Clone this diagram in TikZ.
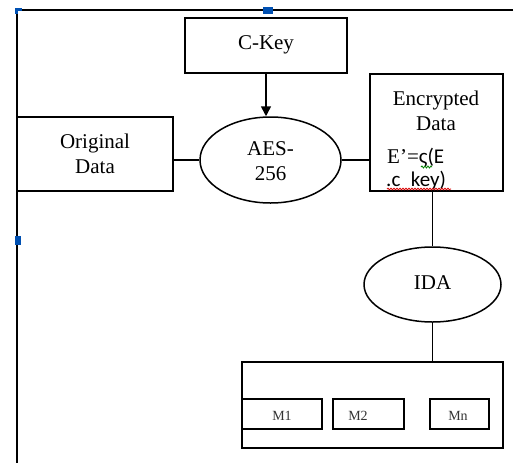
\documentclass[tikz,border=0pt]{standalone}
\usepackage{fontspec}
\setmainfont{Liberation Serif}
\newfontfamily\calib{Carlito}
\usetikzlibrary{shapes.geometric,arrows.meta,decorations.pathmorphing}
\begin{document}
\begin{tikzpicture}[x=1pt,y=-1pt,
  box/.style={draw,line width=1.5pt,rectangle,inner sep=0pt},
  oval/.style={draw,line width=1.5pt,ellipse,inner sep=0pt},
  lbl/.style={font=\fontsize{21}{25}\selectfont,align=center,inner sep=0pt},
  mlbl/.style={font=\fontsize{14}{16}\selectfont,text=black!80,inner sep=0pt},
  conn/.style={line width=1.5pt},
  handle/.style={fill=blue!55!cyan!70!black,draw=none}]
\useasboundingbox[fill=white] (0,0) rectangle (518,463);
% frame lines
\coordinate (tl) at (17,10);
\coordinate (tr) at (513,10);
\coordinate (bl) at (17,463);
\draw[conn,line width=1.3pt] (tr) -- (tl) -- (bl);
% nodes
\node[box,minimum width=162pt,minimum height=55pt] (ckey) at (266,45.5) {};
\node[lbl] (ckeyt) at (266,45) {C-Key};
\node[box,minimum width=156pt,minimum height=74pt] (orig) at (95,154) {};
\node[lbl] (origt) at (95,154) {Original\\Data};
\node[oval,minimum width=141pt,minimum height=86pt] (aes) at (270.5,160) {};
\node[lbl] (aest) at (270.5,161) {AES-\\256};
\node[box,minimum width=133pt,minimum height=117pt] (enc) at (436.5,132.5) {};
\node[lbl] (enct) at (436,111) {Encrypted\\Data};
\node[font=\fontsize{21}{25}\selectfont,anchor=base west,inner sep=0pt] (encf) at (387,163) {E'=\calib ς(E};
\node[font=\fontsize{21}{25}\selectfont\calib,anchor=base west,inner sep=0pt] (enck) at (386,186) {.c\,\,\,key)};
\node[oval,minimum width=137pt,minimum height=75pt] (ida) at (432.5,284.5) {};
\node[lbl] (idat) at (432.5,283) {IDA};
\node[box,minimum width=261pt,minimum height=86pt] (big) at (372.5,405) {};
\node[box,line width=1.3pt,minimum width=80pt,minimum height=30pt] (m1) at (282,414) {};
\node[box,line width=1.3pt,minimum width=71pt,minimum height=30pt] (m2) at (368.5,414) {};
\node[box,line width=1.3pt,minimum width=59pt,minimum height=30pt] (mn) at (459.5,414) {};
\node[mlbl] (m1t) at (282,416) {M1};
\node[mlbl] (m2t) at (358,416) {M2};
\node[mlbl] (mnt) at (458,416) {Mn};
% connectors
\draw[conn,-{Triangle[length=10pt,width=10pt]}] (ckey.south) -- (ckey.south |- aes.north);
\draw[conn] (aes.west) -- (aes.west -| orig.east);
\draw[conn] (aes.east) -- (aes.east -| enc.west);
\draw[conn] (enc.south -| ida.north) -- (ida.north);
\draw[conn] (ida.south) -- (ida.south |- big.north);
% spell-check wavy underlines
\draw[green!50!black,line width=0.8pt,decorate,decoration={snake,amplitude=1pt,segment length=3pt}] (421,167) -- (432,167);
\draw[red!85!black,line width=0.8pt,decorate,decoration={snake,amplitude=0.8pt,segment length=3pt}] (387,189) -- (451,189);
% selection handles
\fill[handle] (15,8) rectangle (22,11);
\fill[handle] (15,8) rectangle (18,14);
\fill[handle] (263,7) rectangle (273,14);
\fill[handle] (15,236) rectangle (21,245);
\end{tikzpicture}
\end{document}
